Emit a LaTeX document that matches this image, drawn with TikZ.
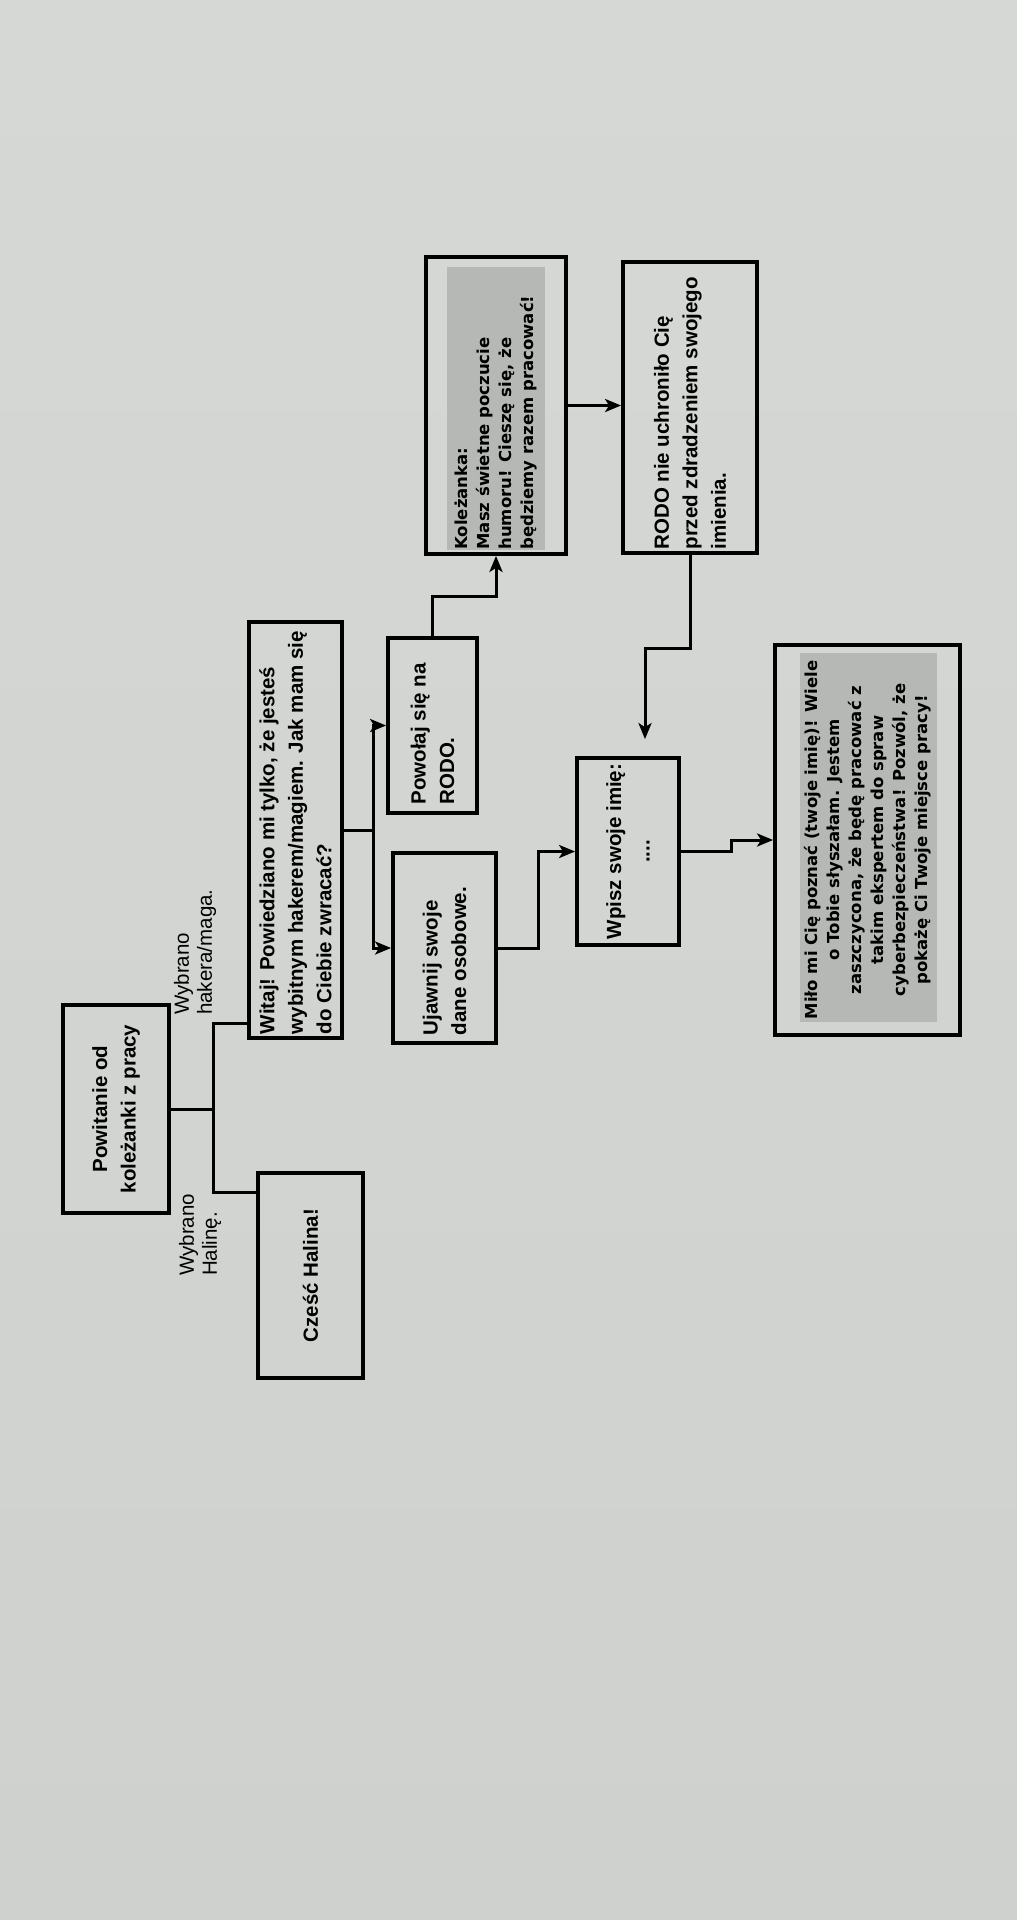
\documentclass[tikz,border=0pt]{standalone}
\usepackage{fontspec}
\usepackage{graphicx}
\setmainfont{Liberation Sans}
\newfontfamily\comicfont{DejaVu Sans}
\usetikzlibrary{arrows.meta}

% text of a card, turned to read from bottom to top
\newcommand{\uptext}[3][\raggedright]{\rotatebox{90}{\parbox{#2}{#1#3}}}

\definecolor{paperlight}{RGB}{214,216,213}
\definecolor{papermid}{RGB}{198,201,197}
\definecolor{paperlow}{RGB}{206,209,205}
\definecolor{marker}{RGB}{181,184,181}

\tikzset{
  card/.style={draw=black, line width=3.8pt, inner sep=0pt,
    font=\bfseries\fontsize{20.5}{28.5}\selectfont},
  comiccard/.style={card, font=\comicfont\bfseries\fontsize{16.5}{22}\selectfont},
  conn/.style={line width=3pt, line join=miter},
  arr/.style={conn, -{Stealth[length=16pt,width=13pt,inset=4pt]}},
  lbl/.style={font=\fontsize{20.5}{23}\selectfont, inner sep=0pt, align=left},
}

\begin{document}
\begin{tikzpicture}[x=1pt,y=-1pt]
  % sheet of paper
  \useasboundingbox (0,0) rectangle (1017,1920);
  \shade[top color=paperlight, middle color=papermid, bottom color=paperlow]
    (0,0) rectangle (1017,1920);

  % marker highlights under the handwritten-style texts
  \fill[marker] (447,267) rectangle (545,550);
  \fill[marker] (800,653) rectangle (937,1022);

  % cards
  \node[card, minimum width=106pt, minimum height=208pt] (pow) at (116,1109)
    {\uptext[\centering]{200pt}{Powitanie od\\koleżanki z pracy}};
  \node[card, minimum width=105pt, minimum height=205pt] (czesc) at (310.5,1275.5)
    {\uptext[\centering]{195pt}{Cześć Halina!}};
  \node[card, minimum width=93pt, minimum height=416pt] (witaj) at (295.5,830)
    {\uptext{408pt}{Witaj! Powiedziano mi tylko, że jesteś\\wybitnym hakerem/magiem. Jak mam się\\do Ciebie zwracać?}};
  \node[card, minimum width=89pt, minimum height=175pt] (powolaj) at (432.5,725.5)
    {\uptext{158pt}{Powołaj się na\\RODO.}};
  \node[card, minimum width=103pt, minimum height=190pt] (ujawnij) at (444.5,948)
    {\uptext{174pt}{Ujawnij swoje\\dane osobowe.}};
  \node[comiccard, minimum width=140pt, minimum height=297pt] (kol) at (496,405.5)
    {\uptext{288pt}{Koleżanka:\\Masz świetne poczucie\\humoru! Cieszę się, że\\będziemy razem pracować!}};
  \node[card, minimum width=134pt, minimum height=291pt] (rodo) at (690,407.5)
    {\uptext{284pt}{RODO nie uchroniło Cię\\przed zdradzeniem swojego\\imienia.}};
  \node[card, minimum width=102pt, minimum height=187pt] (wpisz) at (628,851.5)
    {\uptext[\centering]{180pt}{Wpisz swoje imię:\\....}};
  \node[comiccard, minimum width=185pt, minimum height=390pt] (milo) at (867.5,840)
    {\uptext[\centering]{380pt}{Miło mi Cię poznać (twoje imię)! Wiele\\o Tobie słyszałam. Jestem\\zaszczycona, że będę pracować z\\takim ekspertem do spraw\\cyberbezpieczeństwa! Pozwól, że\\pokażę Ci Twoje miejsce pracy!}};

  % choice labels
  \node[lbl, rotate=90, anchor=west] (lhaker) at (195,1015) {Wybrano\\hakera/maga.};
  \node[lbl, rotate=90, anchor=west] (lhalina) at (200,1276) {Wybrano\\Halinę.};

  % first branching
  \coordinate (j1) at (213,1109);
  \draw[conn] (pow.east) -- (j1);
  \draw[conn] (witaj.west |- 0,1023) -| (j1) |- (czesc.west |- 0,1192);

  % answers to the greeting
  \coordinate (j2) at (373,830);
  \draw[conn] (witaj.east) -- (j2);
  \draw[arr] (j2) |- (powolaj.west);
  \draw[arr] (j2) |- (ujawnij.west);

  % RODO path
  \draw[arr] (powolaj.north) -- ++(0,-40) -| (kol.south);
  \draw[arr] (kol.east) -- (rodo.west |- kol.east);
  \draw[arr, shorten >=17pt] (rodo.south) -- ++(0,94) -| ([xshift=17pt]wpisz.north);

  % name entry
  \draw[arr] (ujawnij.east) -- ++(41,0) |- (wpisz.west);
  \draw[arr] (wpisz.east) -- ++(51,0) |- (milo.west);
\end{tikzpicture}
\end{document}
